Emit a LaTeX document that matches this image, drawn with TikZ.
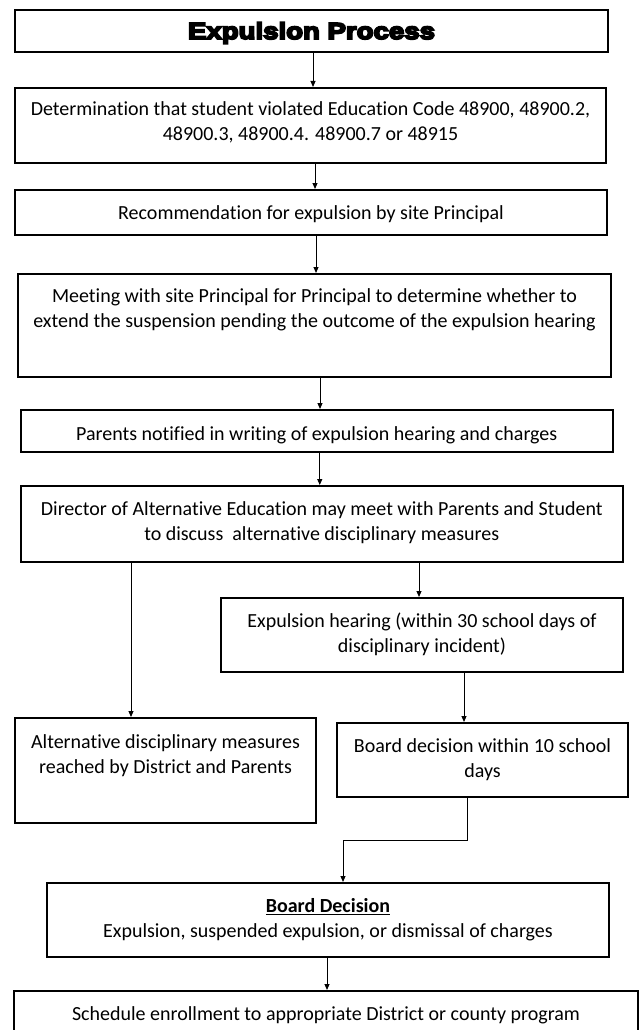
\documentclass[tikz,border=0pt]{standalone}
\usepackage{fontspec}
\setmainfont{Carlito}[Ligatures=NoCommon]
\newfontfamily\heavyfont[FakeBold=8,FakeStretch=1.2]{Liberation Sans Bold}
\usepackage{tikz}
\usetikzlibrary{arrows.meta, calc}
\tikzset{
  stepbox/.style={rectangle, draw=black, line width=2pt, inner sep=0pt},
  boxtext/.style={anchor=north, inner sep=0pt, align=center,
    font=\fontsize{20}{25}\selectfont},
  titletext/.style={anchor=base, inner sep=0pt,
    font=\fontsize{23}{27}\selectfont\heavyfont},
  arrow/.style={-{Triangle[width=5pt,length=6pt]}, line width=1pt, color=black},
  line/.style={line width=1pt, color=black}
}

\begin{document}
\begin{tikzpicture}[x=1pt, y=-1pt]
  \path[use as bounding box, clip] (0,0) rectangle (640,1030);

  % Boxes
  \node[stepbox, minimum width=593pt, minimum height=42pt] (title) at (311.5,31) {};
  \node[stepbox, minimum width=591pt, minimum height=75pt] (determ) at (310.5,125.5) {};
  \node[stepbox, minimum width=592pt, minimum height=45pt] (recom) at (311,212.5) {};
  \node[stepbox, minimum width=593pt, minimum height=103pt] (meet) at (314.5,325.5) {};
  \node[stepbox, minimum width=592pt, minimum height=42pt] (notify) at (316.75,431) {};
  \node[stepbox, minimum width=602pt, minimum height=76pt] (director) at (321.75,524) {};
  \node[stepbox, minimum width=402pt, minimum height=74pt] (hearing) at (422,635) {};
  \node[stepbox, minimum width=301pt, minimum height=105pt] (alt) at (165.5,770.5) {};
  \node[stepbox, minimum width=291pt, minimum height=74pt] (board) at (482.5,760) {};
  \node[stepbox, minimum width=562pt, minimum height=74pt] (decision) at (328,920) {};
  \node[stepbox, minimum width=624pt, minimum height=48pt] (schedule) at (326,1015) {};

  % Texts
  \node[titletext] (title-t) at ([yshift=-8pt]title.center) {Expulsion Process};
  \node[boxtext] (determ-t) at ([yshift=-14pt]determ.north)
    {Determination that student violated Education Code 48900, 48900.2,\\
     48900.3, 48900.4. 48900.7 or 48915};
  \node[boxtext] (recom-t) at ([yshift=-16pt]recom.north)
    {Recommendation for expulsion by site Principal};
  \node[boxtext] (meet-t) at ([yshift=-15pt]meet.north)
    {Meeting with site Principal for Principal to determine whether to\\
     extend the suspension pending the outcome of the expulsion hearing};
  \node[boxtext] (notify-t) at ([yshift=-17pt]notify.north)
    {Parents notified in writing of expulsion hearing and charges};
  \node[boxtext] (director-t) at ([yshift=-16pt]director.north)
    {Director of Alternative Education may meet with Parents and Student\\
     to discuss\ \ alternative disciplinary measures};
  \node[boxtext] (hearing-t) at ([yshift=-16pt]hearing.north)
    {Expulsion hearing (within 30 school days of\\disciplinary incident)};
  \node[boxtext] (alt-t) at ([yshift=-17pt]alt.north)
    {Alternative disciplinary measures\\reached by District and Parents};
  \node[boxtext] (board-t) at ([yshift=-16pt]board.north)
    {Board decision within 10 school\\days};
  \node[boxtext] (decision-t) at ([yshift=-16pt]decision.north)
    {\textbf{\underline{Board Decision}}\\
     Expulsion, suspended expulsion, or dismissal of charges};
  \node[boxtext] (schedule-t) at ([yshift=-16pt]schedule.north)
    {Schedule enrollment to appropriate District or county program};

  % Arrows
  \draw[arrow] ([xshift=1.5pt]title.south) -- ([xshift=1.5pt]title.south |- determ.north);
  \draw[arrow] ([xshift=4.5pt]determ.south) -- ([xshift=4.5pt]determ.south |- recom.north);
  \draw[arrow] ([xshift=5pt]recom.south) -- ([xshift=5pt]recom.south |- meet.north);
  \draw[arrow] ([xshift=5.5pt]meet.south) -- ([xshift=5.5pt]meet.south |- notify.north);
  \draw[arrow] ([xshift=3pt]notify.south) -- ([xshift=3pt]notify.south |- director.north);
  \draw[arrow] ([xshift=-3pt]hearing.north |- director.south) -- ([xshift=-3pt]hearing.north);
  \draw[arrow] ([xshift=-34.5pt]alt.north |- director.south) -- ([xshift=-34.5pt]alt.north);
  \draw[arrow] ([xshift=42pt]hearing.south) -- ([xshift=42pt]hearing.south |- board.north);
  \draw[arrow] ([xshift=-15.5pt]board.south) -- ++(0,42) -| ([xshift=15pt]decision.north);
  \draw[arrow] ([xshift=-1pt]decision.south) -- ([xshift=-1pt]decision.south |- schedule.north);
\end{tikzpicture}
\end{document}
